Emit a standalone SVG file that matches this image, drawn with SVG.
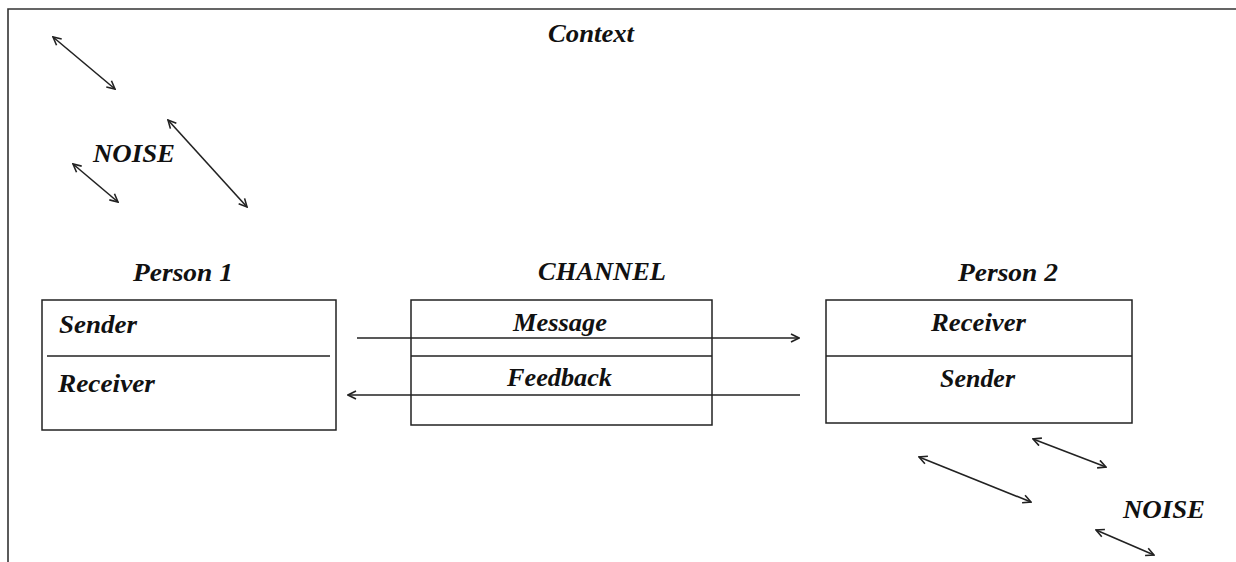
<svg xmlns="http://www.w3.org/2000/svg" width="1236" height="562" viewBox="0 0 1236 562">
<style>
  .t { font-family: "Liberation Serif", "Times New Roman", serif; font-weight: bold; font-style: italic; font-size: 25px; fill: #111; }
  .box { fill: #fff; stroke: #222; stroke-width: 1.5; }
  .div { stroke: #222; stroke-width: 1.5; }
  .conn { stroke: #222; stroke-width: 1.6; fill: none; }
  .frame { stroke: #333; stroke-width: 1.6; fill: none; }
</style>
<defs>
  <marker id="ah" viewBox="0 0 10 10" refX="9" refY="5" markerWidth="10" markerHeight="10" markerUnits="userSpaceOnUse" orient="auto-start-reverse">
    <path d="M1,1 L9,5 L1,9" fill="none" stroke="#222" stroke-width="1.6"/>
  </marker>
</defs>
<rect width="1236" height="562" fill="#fff"/>
<path class="frame" d="M8,562 L8,9 L1236,9"/>
<text class="t" x="548" y="42" textLength="86" lengthAdjust="spacingAndGlyphs">Context</text>
<g id="noise-top">
  <text class="t" x="93" y="162" textLength="82" lengthAdjust="spacingAndGlyphs">NOISE</text>
</g>
<g id="noise-bottom">
  <text class="t" x="1123" y="518" textLength="82" lengthAdjust="spacingAndGlyphs">NOISE</text>
</g>
<g id="person1">
  <text class="t" x="133" y="281" textLength="100" lengthAdjust="spacingAndGlyphs">Person 1</text>
  <rect class="box" x="42" y="300" width="294" height="130"/>
  <line class="div" x1="47" y1="356" x2="330" y2="356"/>
  <text class="t" x="59" y="333" textLength="78" lengthAdjust="spacingAndGlyphs">Sender</text>
  <text class="t" x="58" y="392" textLength="97" lengthAdjust="spacingAndGlyphs">Receiver</text>
</g>
<g id="channel">
  <text class="t" x="538" y="280" textLength="128" lengthAdjust="spacingAndGlyphs">CHANNEL</text>
  <rect class="box" x="411" y="300" width="301" height="125"/>
  <line class="div" x1="411" y1="356" x2="712" y2="356"/>
  <text class="t" x="513" y="331" textLength="94" lengthAdjust="spacingAndGlyphs">Message</text>
  <text class="t" x="507" y="386" textLength="105" lengthAdjust="spacingAndGlyphs">Feedback</text>
</g>
<g id="person2">
  <text class="t" x="958" y="281" textLength="100" lengthAdjust="spacingAndGlyphs">Person 2</text>
  <rect class="box" x="826" y="300" width="306" height="123"/>
  <line class="div" x1="826" y1="356" x2="1132" y2="356"/>
  <text class="t" x="931" y="331" textLength="95" lengthAdjust="spacingAndGlyphs">Receiver</text>
  <text class="t" x="940" y="387" textLength="75" lengthAdjust="spacingAndGlyphs">Sender</text>
</g>
<g id="connectors">
  <line class="conn" x1="357" y1="338" x2="799" y2="338" marker-end="url(#ah)"/>
  <line class="conn" x1="800" y1="395" x2="348" y2="395" marker-end="url(#ah)"/>
  <line class="conn" x1="53" y1="37" x2="115" y2="89" marker-start="url(#ah)" marker-end="url(#ah)"/>
  <line class="conn" x1="168" y1="120" x2="247" y2="207" marker-start="url(#ah)" marker-end="url(#ah)"/>
  <line class="conn" x1="73" y1="164" x2="118" y2="202" marker-start="url(#ah)" marker-end="url(#ah)"/>
  <line class="conn" x1="1033" y1="439" x2="1106" y2="467" marker-start="url(#ah)" marker-end="url(#ah)"/>
  <line class="conn" x1="919" y1="457" x2="1031" y2="502" marker-start="url(#ah)" marker-end="url(#ah)"/>
  <line class="conn" x1="1096" y1="530" x2="1154" y2="555" marker-start="url(#ah)" marker-end="url(#ah)"/>
</g>
</svg>
